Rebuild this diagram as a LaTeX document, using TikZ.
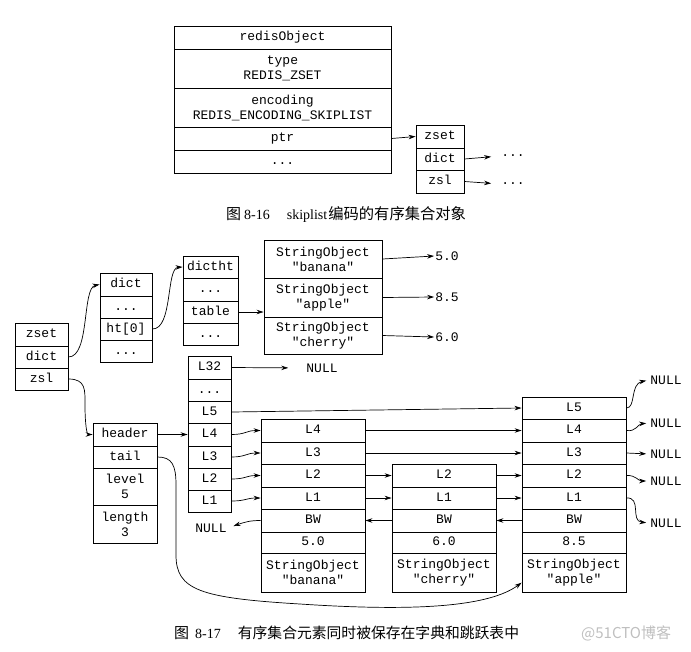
\documentclass[tikz,border=0pt]{standalone}
\usepackage{fontspec}
\setmainfont{Liberation Serif}
\setmonofont{Liberation Mono}
\newfontfamily\cjk{Noto Sans CJK SC}
\usetikzlibrary{arrows.meta}
\begin{document}
\begin{tikzpicture}[x=1pt,y=-1pt,
  cell/.style={draw, line width=0.9pt, inner sep=0pt, align=center,
    font=\fontsize{13}{15}\selectfont\ttfamily},
  sz/.style 2 args={minimum width=#1, minimum height=#2},
  one/.style={text height=9pt, text depth=2.5pt},
  lbl/.style={inner sep=1pt, font=\fontsize{13}{15}\selectfont\ttfamily},
  arr/.style={-{Stealth[length=7pt,width=4.5pt]}, line width=0.7pt},
  captext/.style={anchor=west, inner sep=0pt, font=\fontsize{14}{16}\selectfont},
]
\useasboundingbox (0,0) rectangle (691,651);

% ---------- Figure 8-16 ----------
\node[cell,one,sz={217pt}{23pt}] (ro1) at (282.5,37.5) {redisObject};
\node[cell,sz={217pt}{39pt}] (ro2) at (282.5,68.5) {type\\REDIS\_ZSET};
\node[cell,sz={217pt}{39pt}] (ro3) at (282.5,107.5) {encoding\\REDIS\_ENCODING\_SKIPLIST};
\node[cell,one,sz={217pt}{23pt}] (ro4) at (282.5,138.5) {ptr};
\node[cell,one,sz={217pt}{23pt}] (ro5) at (282.5,161.5) {...};

\node[cell,one,sz={48pt}{23pt}] (zs1) at (440,136.5) {zset};
\node[cell,one,sz={48pt}{22pt}] (zs2) at (440,159) {dict};
\node[cell,one,sz={48pt}{23pt}] (zs3) at (440,181.5) {zsl};
\node[lbl] (td1) at (513,156) {...};
\node[lbl] (td2) at (513,184) {...};

\draw[arr] (ro4.east) -- (zs1.west);
\draw[arr,shorten >=9pt] (zs2.east) -- (td1.west);
\draw[arr,shorten >=9pt] (zs3.east) -- (td2.west);

\node[captext] (cap1) at (226,215) {{\cjk\fontsize{15}{16}\selectfont 图}\hspace{3pt}8-16\hspace{17pt}skiplist\hspace{1pt}{\cjk\fontsize{15.3}{16}\selectfont 编码的有序集合对象}};

% ---------- Figure 8-17 ----------
% zset
\node[cell,one,sz={53pt}{23pt}] (zz1) at (41.5,334.5) {zset};
\node[cell,one,sz={53pt}{22pt}] (zz2) at (41.5,357) {dict};
\node[cell,one,sz={53pt}{22pt}] (zz3) at (41.5,379) {zsl};
% dict
\node[cell,one,sz={52pt}{23pt}] (dd1) at (126,284.5) {dict};
\node[cell,one,sz={52pt}{22pt}] (dd2) at (126,307) {...};
\node[cell,one,sz={52pt}{22pt}] (dd3) at (126,329) {ht[0]};
\node[cell,one,sz={52pt}{22pt}] (dd4) at (126,351) {...};
% dictht
\node[cell,one,sz={55pt}{22pt}] (dt1) at (210.5,267) {dictht};
\node[cell,one,sz={55pt}{23pt}] (dt2) at (210.5,289.5) {...};
\node[cell,one,sz={55pt}{22pt}] (dt3) at (210.5,312) {table};
\node[cell,one,sz={55pt}{22pt}] (dt4) at (210.5,334) {...};
% string objects
\node[cell,sz={118pt}{38pt}] (s1) at (323,259) {StringObject\\"banana"};
\node[cell,sz={118pt}{39pt}] (s2) at (323,297.5) {StringObject\\"apple"};
\node[cell,sz={118pt}{37pt}] (s3) at (323,335.5) {StringObject\\"cherry"};
\node[lbl] (v1) at (447,256) {5.0};
\node[lbl] (v2) at (447,297) {8.5};
\node[lbl] (v3) at (447,337) {6.0};

\draw[arr] (zz2.east) .. controls (90,357) and (82,288) .. (dd1.west);
\draw[arr] (dd3.east) .. controls (173,329) and (166,268) .. (dt1.west);
\draw[arr] (dt3.east) -- (dt3.east -| s2.west);
\draw[arr] (s1.east) -- (v1.west);
\draw[arr] (s2.east) -- (v2.west);
\draw[arr] (s3.east) -- (v3.west);

% header levels
\node[cell,one,sz={43pt}{23pt}] (L32) at (209.5,367.5) {L32};
\node[cell,one,sz={43pt}{22pt}] (Ld) at (209.5,390) {...};
\node[cell,one,sz={43pt}{22pt}] (L5) at (209.5,412) {L5};
\node[cell,one,sz={43pt}{23pt}] (L4) at (209.5,434.5) {L4};
\node[cell,one,sz={43pt}{22pt}] (L3) at (209.5,457) {L3};
\node[cell,one,sz={43pt}{22pt}] (L2) at (209.5,479) {L2};
\node[cell,one,sz={43pt}{22pt}] (L1) at (209.5,501) {L1};
\node[lbl] (n0) at (322,368) {NULL};

% zskiplist
\node[cell,one,sz={64pt}{23pt}] (hd1) at (125,434.5) {header};
\node[cell,one,sz={64pt}{22pt}] (hd2) at (125,457) {tail};
\node[cell,sz={64pt}{37pt}] (hd3) at (125,486.5) {level\\5};
\node[cell,sz={64pt}{38pt}] (hd4) at (125,524) {length\\3};

% banana node
\node[cell,one,sz={104pt}{23pt}] (bL4) at (313,430.5) {L4};
\node[cell,one,sz={104pt}{22pt}] (bL3) at (313,453) {L3};
\node[cell,one,sz={104pt}{23pt}] (bL2) at (313,475.5) {L2};
\node[cell,one,sz={104pt}{22pt}] (bL1) at (313,498) {L1};
\node[cell,one,sz={104pt}{23pt}] (bBW) at (313,520.5) {BW};
\node[cell,one,sz={104pt}{21pt}] (bV) at (313,542.5) {5.0};
\node[cell,sz={104pt}{39pt}] (bSO) at (313,572.5) {StringObject\\"banana"};
% cherry node
\node[cell,one,sz={104pt}{23pt}] (cL2) at (444,475.5) {L2};
\node[cell,one,sz={104pt}{22pt}] (cL1) at (444,498) {L1};
\node[cell,one,sz={104pt}{23pt}] (cBW) at (444,520.5) {BW};
\node[cell,one,sz={104pt}{21pt}] (cV) at (444,542.5) {6.0};
\node[cell,sz={104pt}{39pt}] (cSO) at (444,572.5) {StringObject\\"cherry"};
% apple node
\node[cell,one,sz={104pt}{22pt}] (aL5) at (574,408) {L5};
\node[cell,one,sz={104pt}{23pt}] (aL4) at (574,430.5) {L4};
\node[cell,one,sz={104pt}{22pt}] (aL3) at (574,453) {L3};
\node[cell,one,sz={104pt}{23pt}] (aL2) at (574,475.5) {L2};
\node[cell,one,sz={104pt}{22pt}] (aL1) at (574,498) {L1};
\node[cell,one,sz={104pt}{23pt}] (aBW) at (574,520.5) {BW};
\node[cell,one,sz={104pt}{21pt}] (aV) at (574,542.5) {8.5};
\node[cell,sz={104pt}{39pt}] (aSO) at (574,572.5) {StringObject\\"apple"};

% NULLs
\node[lbl] (nL) at (211,528) {NULL};
\node[lbl] (r5) at (666,380) {NULL};
\node[lbl] (r4) at (666,423) {NULL};
\node[lbl] (r3) at (666,454) {NULL};
\node[lbl] (r2) at (666,481) {NULL};
\node[lbl] (r1) at (666,523) {NULL};

% connectors
\draw[arr] (zz3.east) .. controls (86,379) and (85,390) .. (85,405) .. controls (85,425) and (87,434.5) .. (hd1.west);
\draw[arr] (hd1.east) -- (L4.west);
\draw[arr,shorten >=17pt] (L32.east) -- (n0.west);
\draw[arr] (L5.east) -- (aL5.west);
\draw[arr] (L4.east) .. controls (246,434.5) and (246,430.5) .. (bL4.west);
\draw[arr] (L3.east) .. controls (246,457) and (246,453) .. (bL3.west);
\draw[arr] (L2.east) .. controls (246,479) and (246,475.5) .. (bL2.west);
\draw[arr] (L1.east) .. controls (246,501) and (246,498) .. (bL1.west);

\draw[arr] (bL4.east) -- (aL4.west);
\draw[arr] (bL3.east) -- (aL3.west);
\draw[arr] (bL2.east) -- (cL2.west);
\draw[arr] (bL1.east) -- (cL1.west);
\draw[arr] (cL2.east) -- (aL2.west);
\draw[arr] (cL1.east) -- (aL1.west);

\draw[arr] (cBW.west) -- (bBW.east);
\draw[arr] (aBW.west) -- (cBW.east);
\draw[arr,shorten >=6pt] (bBW.west) .. controls (250,520.5) and (245,522) .. (nL.east);

\draw[arr,shorten >=3pt] (aL5.east) .. controls (636,408) and (630,384) .. (r5.west);
\draw[arr,shorten >=3pt] (aL4.east) .. controls (636,432) and (638,424) .. (r4.west);
\draw[arr,shorten >=3pt] (aL3.east) -- (r3.west);
\draw[arr,shorten >=3pt] (aL2.east) .. controls (636,475) and (638,481) .. (r2.west);
\draw[arr,shorten >=3pt] (aL1.east) .. controls (642,497) and (630,521) .. (r1.west);

\draw[arr] (hd2.east) .. controls (172,457) and (176,465) .. (176,485) -- (176,555)
  .. controls (176,590) and (200,598) .. (300,604)
  .. controls (420,612) and (490,606) .. (aSO.191);

\node[captext] (cap2) at (174,633) {{\cjk\fontsize{15}{16}\selectfont 图}\hspace{6pt}8-17\hspace{17pt}{\cjk\fontsize{14.8}{16}\selectfont 有序集合元素同时被保存在字典和跳跃表中}};
\node[anchor=west, inner sep=0pt, text=gray!50, font=\cjk\fontsize{15}{16}\selectfont] (wm) at (581,633) {@51CTO博客};
\end{tikzpicture}
\end{document}
